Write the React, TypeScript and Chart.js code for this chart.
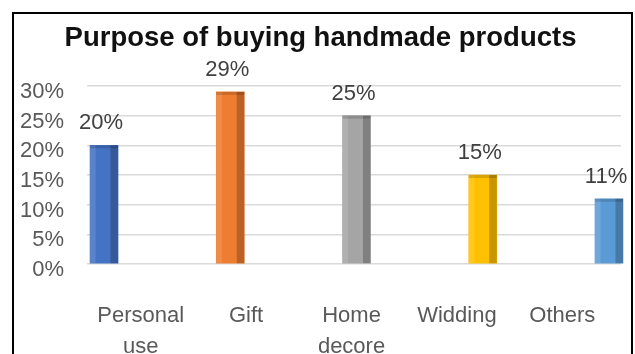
import React, { useEffect, useRef } from "react";
import { Chart, registerables } from "chart.js";

Chart.register(...registerables);

const titleText = "Purpose of buying handmade products";
const categories: (string | string[])[] = [["Personal", "use"], "Gift", ["Home", "decore"], "Widding", "Others"];
const values = [0.2, 0.29, 0.25, 0.15, 0.11];
const valueLabels = ["20%", "29%", "25%", "15%", "11%"];
const barColors = ["#4472C4", "#ED7D31", "#A5A5A5", "#FFC000", "#5B9BD5"];
const yMin = 0;
const yMax = 0.3;
const yStep = 0.05;

const FONT = "'Liberation Sans', Arial, sans-serif";

const barDecoPlugin = {
  id: "barDeco",
  afterDatasetsDraw(chart: any) {
    const ctx = chart.ctx;
    const meta = chart.getDatasetMeta(0);
    ctx.save();
    meta.data.forEach((bar: any, i: number) => {
      const { x, y, base, width } = bar.getProps(["x", "y", "base", "width"], true);
      const left = x - width / 2;
      const right = x + width / 2;
      ctx.fillStyle = "rgba(0,0,0,0.22)";
      ctx.fillRect(right - width * 0.27, y, width * 0.27, base - y);
      ctx.fillStyle = "rgba(255,255,255,0.12)";
      ctx.fillRect(left, y, width * 0.2, base - y);
      ctx.fillStyle = "rgba(0,0,0,0.15)";
      ctx.fillRect(left, y, width, 3);
      ctx.fillStyle = "#404040";
      ctx.font = `22px ${FONT}`;
      ctx.textAlign = "center";
      ctx.textBaseline = "middle";
      ctx.fillText(valueLabels[i], x - 3, y - 22);
    });
    ctx.restore();
  },
};

const xLabelPlugin = {
  id: "xLabels",
  afterDraw(chart: any) {
    const ctx = chart.ctx;
    const xs = chart.scales.x;
    const mid = xs.getPixelForValue((categories.length - 1) / 2);
    const baseY = chart.chartArea.bottom;
    ctx.save();
    ctx.fillStyle = "#595959";
    ctx.font = `22px ${FONT}`;
    ctx.textAlign = "center";
    ctx.textBaseline = "alphabetic";
    categories.forEach((c, i) => {
      const px = xs.getPixelForValue(i);
      const lx = mid + (px - mid) * 0.835 - 5;
      const lines = Array.isArray(c) ? c : [c];
      lines.forEach((ln, j) => {
        ctx.fillText(ln, lx, baseY + 58 + j * 31);
      });
    });
    ctx.restore();
  },
};

export default function App() {
  const canvasRef = useRef<HTMLCanvasElement | null>(null);

  useEffect(() => {
    if (!canvasRef.current) return;
    const chart = new Chart(canvasRef.current, {
      type: "bar",
      data: {
        datasets: [
          {
            data: values.map((v, i) => ({ x: i, y: v })),
            backgroundColor: barColors,
            borderWidth: 0,
            barThickness: 28,
            clip: false as any,
          },
        ],
      },
      options: {
        animation: false,
        responsive: true,
        maintainAspectRatio: false,
        layout: { padding: { left: 6, right: 10, top: 0, bottom: 96 } },
        plugins: {
          legend: { display: false },
          tooltip: { enabled: false },
          title: {
            display: true,
            text: titleText,
            color: "#111111",
            font: { family: FONT, size: 27.5, weight: "bold" },
            padding: { top: 8, bottom: 31 },
          },
        },
        scales: {
          x: {
            type: "linear",
            min: -0.135,
            max: 4.095,
            offset: false,
            display: false,
          },
          y: {
            min: yMin,
            max: yMax,
            grid: { color: "#d9d9d9", lineWidth: 1.5, drawTicks: false },
            border: { display: false },
            afterFit: (scale: any) => {
              scale.width = 67;
            },
            ticks: {
              stepSize: yStep,
              autoSkip: false,
              padding: 23,
              labelOffset: 6,
              color: "#595959",
              font: { family: FONT, size: 22 },
              callback: (v: any) => `${Math.round(Number(v) * 100)}%`,
            },
          },
        },
      },
      plugins: [barDecoPlugin, xLabelPlugin],
    });
    return () => chart.destroy();
  }, []);

  return (
    <div
      style={{
        position: "fixed",
        left: 12,
        top: 12,
        width: 621,
        height: 350,
        border: "2px solid #000",
        boxSizing: "border-box",
        background: "#fff",
      }}
    >
      <div style={{ position: "relative", width: "100%", height: "100%" }}>
        <canvas ref={canvasRef} />
      </div>
    </div>
  );
}
